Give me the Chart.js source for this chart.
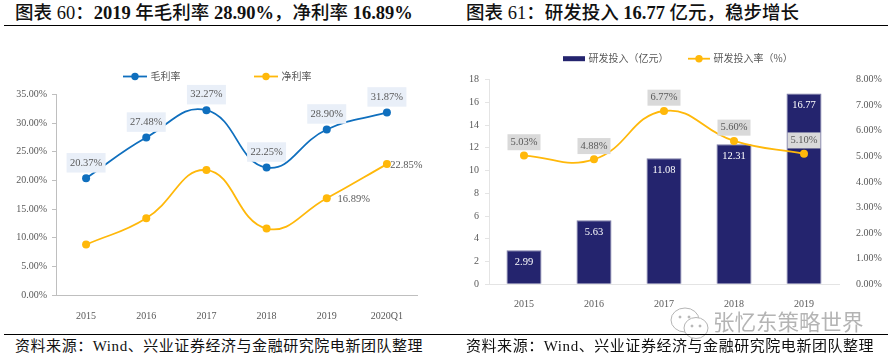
<!DOCTYPE html>
<html>
<head>
<meta charset="utf-8">
<script src="https://cdn.jsdelivr.net/npm/chart.js@4"></script>
<style>
    html, body { margin: 0; padding: 0; background: #fff; }
    body { position: relative; width: 894px; height: 361px; overflow: hidden; font-family: "Liberation Serif", "Noto Sans CJK SC", serif; color: #111; }
    .title, .source { position: absolute; white-space: nowrap; font-family: "Liberation Serif", "Noto Sans CJK SC", serif; }
    .title { top: 1px; font-size: 18.5px; line-height: 24px; font-weight: 500; }
    .title b { font-weight: bold; }
    .source { top: 336px; font-size: 15px; line-height: 20px; letter-spacing: 0.55px; }
    .rule { position: absolute; left: 4px; width: 884px; height: 1px; background: #000; }
    .box { position: absolute; top: 26px; width: 447px; height: 300px; }
    .mark { position: absolute; left: 669px; top: 306px; }
    .mark-text { position: absolute; left: 713px; top: 307px; font: 21.5px/28px "Noto Sans CJK SC", sans-serif; color: #b4b4b4; white-space: nowrap; }
</style>
</head>
<body>
<div class="title" style="left:15px">图表 60：<b>2019</b> 年毛利率 <b>28.90%</b>，净利率 <b>16.89%</b></div>
<div class="title" style="left:466px">图表 61：研发投入 <b>16.77</b> 亿元，稳步增长</div>
<div class="rule" style="top:25px"></div>
<div class="box" style="left:0"><canvas id="margin-chart" width="447" height="300"></canvas></div>
<div class="box" style="left:447px"><canvas id="rd-chart" width="447" height="300"></canvas></div>
<svg class="mark" width="42" height="36" viewBox="0 0 42 36" fill="#fff" stroke="#b4b4b4" stroke-width="1">
    <ellipse cx="16" cy="14" rx="14" ry="12"/>
    <ellipse cx="27" cy="22" rx="12" ry="10.5"/>
    <circle cx="11" cy="11" r="1" fill="#b4b4b4"/><circle cx="20" cy="11" r="1" fill="#b4b4b4"/>
    <circle cx="23" cy="20" r="1" fill="#b4b4b4"/><circle cx="31" cy="20" r="1" fill="#b4b4b4"/>
</svg>
<div class="mark-text">张忆东策略世界</div>
<div class="rule" style="top:334px"></div>
<div class="source" style="left:15px">资料来源：Wind、兴业证券经济与金融研究院电新团队整理</div>
<div class="source" style="left:466px">资料来源：Wind、兴业证券经济与金融研究院电新团队整理</div>

<script>
// Left chart
const marginYears = ['2015', '2016', '2017', '2018', '2019', '2020Q1'];
const grossMargin = [20.37, 27.48, 32.27, 22.25, 28.90, 31.87];
const netMargin = [8.8, 13.4, 21.8, 11.6, 16.89, 22.85];

// Right chart
const rdYears = ['2015', '2016', '2017', '2018', '2019'];
const rdSpend = [2.99, 5.63, 11.08, 12.31, 16.77];
const rdRate = [5.03, 4.88, 6.77, 5.60, 5.10];

const BLUE = '#0f6fbe';
const GOLD = '#ffb80a';
const NAVY = '#24246e';
const TEXT = '#595959';
const AXIS = '#bfbfbf';
const FONT = '"Liberation Serif", serif';
const CJK = '"Noto Sans CJK SC", sans-serif';

function drawLabel(ctx, text, x, y, o) {
    ctx.font = '10.5px ' + FONT;
    if (o.fill) {
        ctx.fillStyle = o.fill;
        ctx.fillRect(x - o.w / 2, y - o.h / 2, o.w, o.h);
    }
    ctx.fillStyle = o.color || TEXT;
    ctx.textAlign = 'center';
    ctx.textBaseline = 'middle';
    ctx.fillText(text, x, y);
}

// value labels and legend
const decorations = {
    id: 'decorations',
    afterDatasetsDraw(chart, args, opts) {
        const ctx = chart.ctx;
        ctx.save();
        (opts.labels || []).forEach(l => {
            const meta = chart.getDatasetMeta(l.dataset);
            const values = chart.data.datasets[l.dataset].data;
            meta.data.forEach((el, i) => {
                if (l.only && !l.only.includes(i)) return;
                drawLabel(ctx, values[i].toFixed(2) + (l.suffix || ''), el.x + (l.dx || 0), el.y + l.dy, l);
            });
        });
        (opts.legend || []).forEach(item => {
            if (item.bar) {
                ctx.fillStyle = item.color;
                ctx.fillRect(item.x, item.y - 2.5, item.w, 5);
            } else {
                ctx.strokeStyle = item.color;
                ctx.lineWidth = 1.8;
                ctx.beginPath();
                ctx.moveTo(item.x, item.y);
                ctx.lineTo(item.x + item.w, item.y);
                ctx.stroke();
                ctx.fillStyle = item.color;
                ctx.beginPath();
                ctx.arc(item.x + item.w / 2, item.y, 3.7, 0, Math.PI * 2);
                ctx.fill();
            }
            ctx.font = '10px ' + CJK;
            ctx.fillStyle = TEXT;
            ctx.textAlign = 'left';
            ctx.textBaseline = 'middle';
            ctx.fillText(item.text, item.x + item.w + 3.5, item.y);
        });
        ctx.restore();
    }
};

function fixedSize(prop, size) {
    return scale => { scale[prop] = size; };
}

new Chart(document.getElementById('margin-chart'), {
    type: 'line',
    data: {
        labels: marginYears,
        datasets: [
            { label: '毛利率', data: grossMargin, borderColor: BLUE, backgroundColor: BLUE },
            { label: '净利率', data: netMargin, borderColor: GOLD, backgroundColor: GOLD }
        ]
    },
    options: {
        responsive: false,
        animation: false,
        layout: { padding: { top: 68.5, right: 30, left: 0, bottom: 0 } },
        elements: {
            line: { borderWidth: 1.8, tension: 0.45 },
            point: { radius: 4, borderWidth: 0 }
        },
        plugins: {
            legend: { display: false },
            tooltip: { enabled: false },
            decorations: {
                labels: [
                    { dataset: 0, suffix: '%', dy: -15.5, fill: '#e9eff8', w: 39, h: 19.5 },
                    { dataset: 1, suffix: '%', only: [4], dx: 27, dy: 1 },
                    { dataset: 1, suffix: '%', only: [5], dx: 19.5, dy: 1 }
                ],
                legend: [
                    { text: '毛利率', color: BLUE, x: 123, y: 50.5, w: 24 },
                    { text: '净利率', color: GOLD, x: 254, y: 50.5, w: 24 }
                ]
            }
        },
        scales: {
            x: {
                offset: true,
                grid: { display: false },
                border: { color: AXIS },
                ticks: { color: TEXT, font: { family: FONT, size: 10 }, padding: 7, maxRotation: 0 },
                afterFit: fixedSize('height', 31)
            },
            y: {
                min: 0,
                max: 35,
                grid: { drawOnChartArea: false, color: AXIS, tickLength: 4 },
                border: { color: AXIS },
                ticks: {
                    stepSize: 5,
                    color: TEXT,
                    font: { family: FONT, size: 10 },
                    padding: 5,
                    callback: v => v.toFixed(2) + '%'
                },
                afterFit: fixedSize('width', 56)
            }
        }
    },
    plugins: [decorations]
});

new Chart(document.getElementById('rd-chart'), {
    type: 'bar',
    data: {
        labels: rdYears,
        datasets: [
            {
                type: 'line',
                label: '研发投入率（%）',
                data: rdRate,
                yAxisID: 'y1',
                borderColor: GOLD,
                backgroundColor: GOLD,
                borderWidth: 1.8,
                tension: 0.45,
                pointRadius: 4,
                pointBorderWidth: 0,
                order: 1
            },
            {
                label: '研发投入（亿元）',
                data: rdSpend,
                yAxisID: 'y',
                backgroundColor: NAVY,
                borderColor: '#7c7ca6',
                borderWidth: 1,
                categoryPercentage: 1,
                barPercentage: 0.5,
                order: 2
            }
        ]
    },
    options: {
        responsive: false,
        animation: false,
        layout: { padding: { top: 53.5, right: 0, left: 0, bottom: 0 } },
        plugins: {
            legend: { display: false },
            tooltip: { enabled: false },
            decorations: {
                labels: [
                    { dataset: 1, dy: 11.7, color: '#fff' },
                    { dataset: 0, suffix: '%', dy: -13.3, fill: '#d9d9d9', w: 33, h: 16 }
                ],
                legend: [
                    { text: '研发投入（亿元）', color: NAVY, bar: true, x: 116, y: 32.7, w: 22 },
                    { text: '研发投入率（%）', color: GOLD, x: 241, y: 32.7, w: 22 }
                ]
            }
        },
        scales: {
            x: {
                grid: { display: false },
                border: { color: '#e4e4e4' },
                ticks: { color: TEXT, font: { family: FONT, size: 10 }, padding: 6, maxRotation: 0 },
                afterFit: fixedSize('height', 41.7)
            },
            y: {
                min: 0,
                max: 18,
                grid: { drawOnChartArea: false, color: '#e4e4e4', tickLength: 4 },
                border: { color: '#e4e4e4' },
                ticks: { stepSize: 2, color: TEXT, font: { family: FONT, size: 10 }, padding: 6 },
                afterFit: fixedSize('width', 42)
            },
            y1: {
                position: 'right',
                min: 0,
                max: 8,
                grid: { display: false },
                border: { display: false },
                ticks: {
                    stepSize: 1,
                    color: TEXT,
                    font: { family: FONT, size: 10 },
                    padding: 9,
                    callback: v => v.toFixed(2) + '%'
                },
                afterFit: fixedSize('width', 55)
            }
        }
    },
    plugins: [decorations]
});
</script>
</body>
</html>
